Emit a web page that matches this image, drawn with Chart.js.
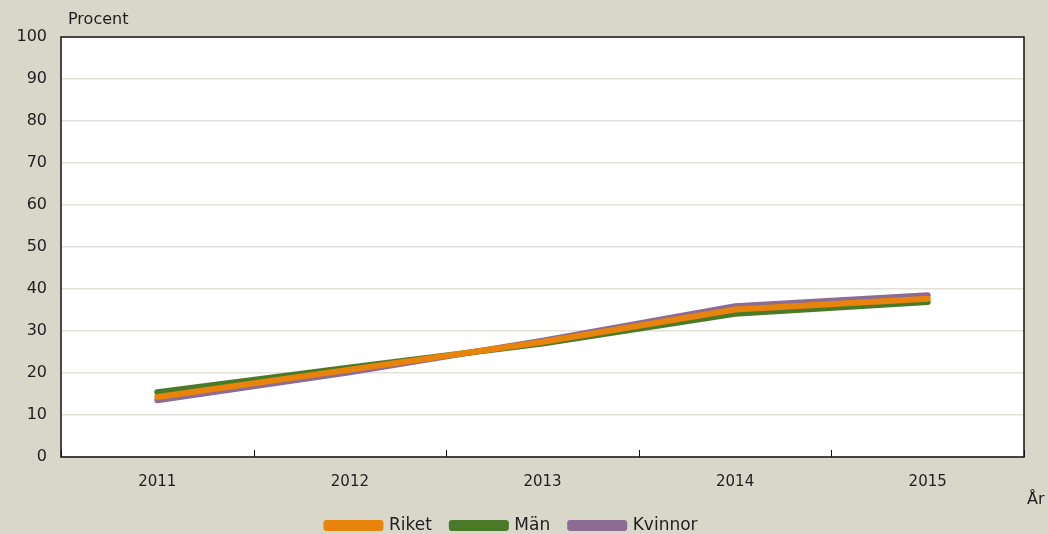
<!DOCTYPE html>
<html>
<head>
<meta charset="utf-8">
<script src="https://cdn.jsdelivr.net/npm/chart.js@4/dist/chart.umd.min.js"></script>
<style>
  html, body { margin: 0; padding: 0; background: #d9d6ca; }
  #wrap { width: 1048px; height: 534px; }
</style>
</head>
<body>
<div id="wrap"><canvas id="chart"></canvas></div>
<script>
const years = ['2011', '2012', '2013', '2014', '2015'];
const riket = [14.3, 20.8, 27.4, 35.1, 37.7];
const man = [15.4, 21.3, 27.0, 34.1, 36.9];
const kvinnor = [13.5, 20.2, 27.7, 35.9, 38.5];

const FONT = "'DejaVu Sans', sans-serif";
const TEXT = '#1e1e1e';

// white plot area, frame, ticks between the categories, axis texts
const extras = {
  id: 'extras',
  beforeDraw(chart) {
    const { ctx, chartArea: a } = chart;
    ctx.save();
    ctx.fillStyle = '#ffffff';
    ctx.fillRect(a.left, a.top, a.right - a.left, a.bottom - a.top);
    ctx.restore();
  },
  afterDatasetsDraw(chart) {
    const { ctx, chartArea: a, scales } = chart;
    ctx.save();
    ctx.strokeStyle = '#111';
    ctx.lineWidth = 1.5;
    ctx.strokeRect(a.left, a.top, a.right - a.left, a.bottom - a.top);
    ctx.lineWidth = 1;
    for (let i = 0; i <= years.length; i++) {
      const x = Math.round(scales.x.getPixelForValue(i - 0.5)) + 0.5;
      ctx.beginPath();
      ctx.moveTo(x, a.bottom - 7);
      ctx.lineTo(x, a.bottom);
      ctx.stroke();
    }
    ctx.fillStyle = TEXT;
    ctx.font = '16px ' + FONT;
    ctx.textBaseline = 'middle';
    ctx.textAlign = 'left';
    ctx.fillText('Procent', 68, 20);
    ctx.fillText('År', 1027, 500);
    ctx.restore();
  }
};

new Chart(document.getElementById('chart'), {
  type: 'line',
  data: {
    labels: years,
    datasets: [{
      label: 'Riket',
      data: riket,
      borderColor: '#e8830c',
      backgroundColor: '#e8830c',
      borderWidth: 6
    }, {
      label: 'Män',
      data: man,
      borderColor: '#4a7a28',
      backgroundColor: '#4a7a28',
      borderWidth: 6
    }, {
      label: 'Kvinnor',
      data: kvinnor,
      borderColor: '#8c6b94',
      backgroundColor: '#8c6b94',
      borderWidth: 6
    }]
  },
  options: {
    responsive: true,
    maintainAspectRatio: false,
    animation: false,
    layout: { padding: { top: 37, right: 24, left: 0, bottom: -10 } },
    elements: {
      point: { radius: 0 },
      line: { tension: 0, borderCapStyle: 'round', borderJoinStyle: 'round' }
    },
    plugins: {
      tooltip: { enabled: false },
      legend: {
        position: 'bottom',
        labels: {
          color: TEXT,
          font: { family: FONT, size: 17 },
          boxWidth: 54,
          boxHeight: 5,
          padding: 20
        }
      }
    },
    scales: {
      x: {
        offset: true,
        grid: { display: false },
        border: { display: false },
        ticks: { color: TEXT, font: { family: FONT, size: 15 }, padding: 8 },
        afterFit(s) { s.height = 40; }
      },
      y: {
        min: 0,
        max: 100,
        ticks: { stepSize: 10, color: TEXT, font: { family: FONT, size: 16 }, padding: 14 },
        grid: { color: '#e2e0d8', lineWidth: 1.5, drawTicks: false },
        border: { display: false },
        afterFit(s) { s.width = 61; }
      }
    }
  },
  plugins: [extras]
});
</script>
</body>
</html>
